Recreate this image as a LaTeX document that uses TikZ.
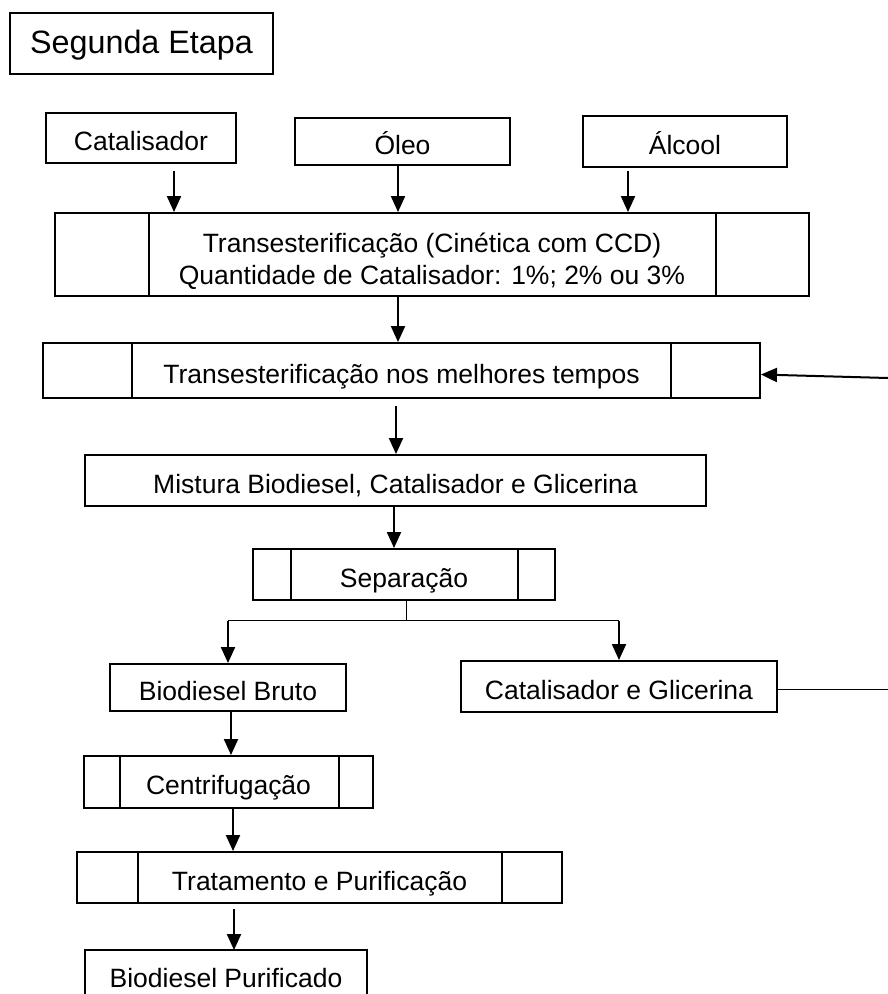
\documentclass[tikz,border=0pt]{standalone}
\usepackage{fontspec}
\setmainfont{Liberation Sans}
\usetikzlibrary{arrows.meta}
\begin{document}
\begin{tikzpicture}[x=1pt,y=-1pt,
  boxbase/.style={draw, line width=1.9pt, inner sep=0pt, align=center, font=\fontsize{26.5}{32}\selectfont},
  box/.style={boxbase, text height=25pt, text depth=0pt},
  arr/.style={line width=2pt, -{Triangle[width=14pt,length=16pt]}},
  thinline/.style={line width=1pt},
  div/.style={line width=1.9pt}]
\useasboundingbox (0,0) rectangle (888,994);

\node[box, font=\fontsize{32.3}{38}\selectfont, text height=19pt, minimum width=263pt, minimum height=61pt] (seg) at (141.5,43.5) {Segunda Etapa};
\node[box, minimum width=190pt, minimum height=50pt] (cat) at (141,138) {Catalisador};
\node[box, minimum width=215pt, minimum height=47pt] (oleo) at (402.5,141.5) {Óleo};
\node[box, minimum width=204pt, minimum height=51pt] (alc) at (685,141.5) {Álcool};
\node[boxbase, minimum width=754pt, minimum height=83pt] (trans) at (432,254.5) {\rule{0pt}{33pt}Transesterificação (Cinética com CCD)\\Quantidade de Catalisador: 1\%; 2\% ou 3\%};
\node[box, minimum width=717pt, minimum height=55pt] (tnm) at (401.5,370.5) {Transesterificação nos melhores tempos};
\node[box, minimum width=621pt, minimum height=51pt] (mist) at (395.5,480.5) {Mistura Biodiesel, Catalisador e Glicerina};
\node[box, minimum width=302pt, minimum height=51pt] (sep) at (404,574.5) {Separação};
\node[box, minimum width=236pt, minimum height=47pt] (bb) at (228,687.5) {Biodiesel Bruto};
\node[box, minimum width=316pt, minimum height=51pt] (cg) at (619,686.5) {Catalisador e Glicerina};
\node[box, minimum width=289pt, minimum height=52pt] (cen) at (228.5,782) {Centrifugação};
\node[box, minimum width=485pt, minimum height=51pt] (trat) at (319.5,877.5) {Tratamento e Purificação};
\node[box, draw=none, minimum width=280pt, minimum height=47pt] (bp) at (226,974.5) {Biodiesel Purificado};
\coordinate (bot) at (0,994);
\draw[div] (bp.north west |- bot) -- (bp.north west) -- (bp.north east) -- (bp.north east |- bot);

\foreach \n/\a/\b in {trans/95/-94, tnm/90/-90, sep/39/-38, cen/37/-35, trat/62/-61} {
  \draw[div] ([xshift=\a pt]\n.north west) -- ([xshift=\a pt]\n.south west);
  \draw[div] ([xshift=\b pt]\n.north east) -- ([xshift=\b pt]\n.south east);
}

\coordinate (a1) at ([xshift=33pt,yshift=-7pt]cat.south);
\draw[arr] (a1) -- (a1 |- trans.north);
\coordinate (a2) at ([xshift=-4.5pt]oleo.south);
\draw[arr] (a2) -- (a2 |- trans.north);
\coordinate (a3) at ([xshift=-57pt,yshift=-3pt]alc.south);
\draw[arr] (a3) -- (a3 |- trans.north);
\coordinate (a4) at ([xshift=-34pt]trans.south);
\draw[arr] (a4) -- (a4 |- tnm.north);
\coordinate (a5) at ([xshift=-5.5pt,yshift=-7pt]tnm.south);
\draw[arr] (a5) -- (a5 |- mist.north);
\coordinate (a6) at ([xshift=-1.5pt]mist.south);
\draw[arr] (a6) -- (a6 |- sep.north);

\coordinate (sp) at ([xshift=2pt,yshift=-20pt]sep.south);
\draw[thinline] (sep.south -| sp) -- (sp);
\draw[thinline] (bb.north |- sp) -- (cg.north |- sp);
\draw[arr] (bb.north |- sp) -- (bb.north);
\draw[arr] (cg.north |- sp) -- (cg.north);

\coordinate (a7) at ([xshift=3pt]bb.south);
\draw[arr] (a7) -- (a7 |- cen.north);
\coordinate (a8) at ([xshift=4.5pt]cen.south);
\draw[arr] (a8) -- (a8 |- trat.north);
\coordinate (a9) at ([xshift=-85.5pt,yshift=-5pt]trat.south);
\draw[arr] (a9) -- (a9 |- bp.north);

\coordinate (edge) at (888,0);
\draw[thinline] ([yshift=-2.5pt]cg.east) -- ([yshift=-2.5pt]cg.east -| edge);
\coordinate (fb) at (888,378);
\draw[arr] (fb) -- ([yshift=-4pt]tnm.east);
\end{tikzpicture}
\end{document}
